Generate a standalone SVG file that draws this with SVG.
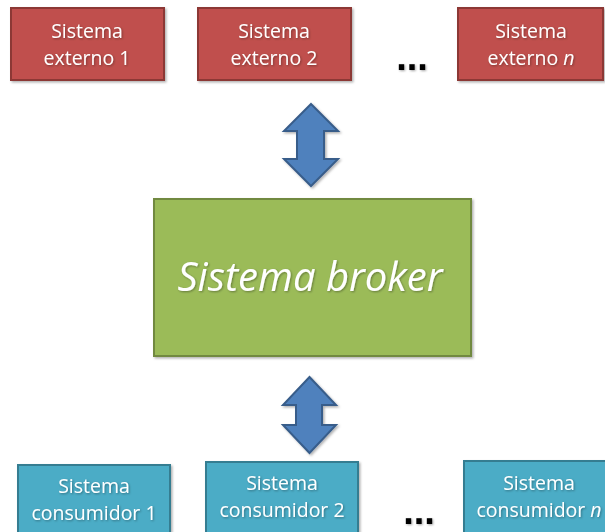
<svg xmlns="http://www.w3.org/2000/svg" width="605" height="532" viewBox="0 0 605 532">
<style>
.red{fill:#C0504D;stroke:#8C3836;stroke-width:2}
.blue{fill:#4BACC6;stroke:#357D91;stroke-width:2}
.green{fill:#9BBB59;stroke:#71893F;stroke-width:2}
.arr{fill:#4F81BD;stroke:#385D8A;stroke-width:2;stroke-linejoin:miter}
.t{font-family:"Open Sans","Liberation Sans",sans-serif;font-size:19.5px;fill:#fff;text-anchor:middle}
.big{font-family:"Open Sans","Liberation Sans",sans-serif;font-size:40px;font-style:italic;fill:#fff;text-anchor:middle}
.dots{font-family:"Liberation Sans",sans-serif;font-size:38px;font-weight:bold;fill:#000;text-anchor:middle}
</style>
<defs>
<filter id="sh" x="-10%" y="-10%" width="130%" height="130%">
<feDropShadow dx="1.5" dy="1.5" stdDeviation="1.2" flood-color="#000" flood-opacity="0.3"/>
</filter>
<filter id="ts" x="-10%" y="-20%" width="130%" height="150%">
<feDropShadow dx="1" dy="1" stdDeviation="0.8" flood-color="#000" flood-opacity="0.35"/>
</filter>
</defs>
<g id="ext1" filter="url(#sh)">
<rect class="red" x="11" y="8" width="153" height="72"/>
<text class="t" filter="url(#ts)" x="87" y="38">Sistema</text>
<text class="t" filter="url(#ts)" x="87" y="65">externo 1</text>
</g>
<g id="ext2" filter="url(#sh)">
<rect class="red" x="198" y="8" width="153" height="72"/>
<text class="t" filter="url(#ts)" x="274" y="38">Sistema</text>
<text class="t" filter="url(#ts)" x="274" y="65">externo 2</text>
</g>
<g id="dots-top"><text class="dots" filter="url(#ts)" x="412" y="70">...</text></g>
<g id="extn" filter="url(#sh)">
<rect class="red" x="458" y="8" width="145" height="72"/>
<text class="t" filter="url(#ts)" x="531" y="38">Sistema</text>
<text class="t" filter="url(#ts)" x="531" y="65">externo <tspan font-style="italic">n</tspan></text>
</g>
<g id="broker" filter="url(#sh)">
<rect class="green" x="154" y="199" width="317" height="157"/>
<text class="big" filter="url(#ts)" x="310" y="291">Sistema broker</text>
</g>
<g id="connectors">
<path class="arr" filter="url(#sh)" d="M311,104 L338,131 L324,131 L324,159 L338,159 L311,186 L284,159 L297,159 L297,131 L284,131 Z"/>
<path class="arr" filter="url(#sh)" d="M309.5,377 L336,405 L322,405 L322,425 L336,425 L309.5,453 L283,425 L296,425 L296,405 L283,405 Z"/>
</g>
<g id="cons1" filter="url(#sh)">
<rect class="blue" x="18" y="465" width="152" height="80"/>
<text class="t" filter="url(#ts)" x="94" y="493">Sistema</text>
<text class="t" filter="url(#ts)" x="94" y="520">consumidor 1</text>
</g>
<g id="cons2" filter="url(#sh)">
<rect class="blue" x="206" y="462" width="152" height="80"/>
<text class="t" filter="url(#ts)" x="282" y="490">Sistema</text>
<text class="t" filter="url(#ts)" x="282" y="517">consumidor 2</text>
</g>
<g id="dots-bottom"><text class="dots" filter="url(#ts)" x="419" y="524">...</text></g>
<g id="consn" filter="url(#sh)">
<rect class="blue" x="464" y="461" width="152" height="80"/>
<text class="t" filter="url(#ts)" x="539" y="490">Sistema</text>
<text class="t" filter="url(#ts)" x="539" y="517">consumidor <tspan font-style="italic">n</tspan></text>
</g>
</svg>
